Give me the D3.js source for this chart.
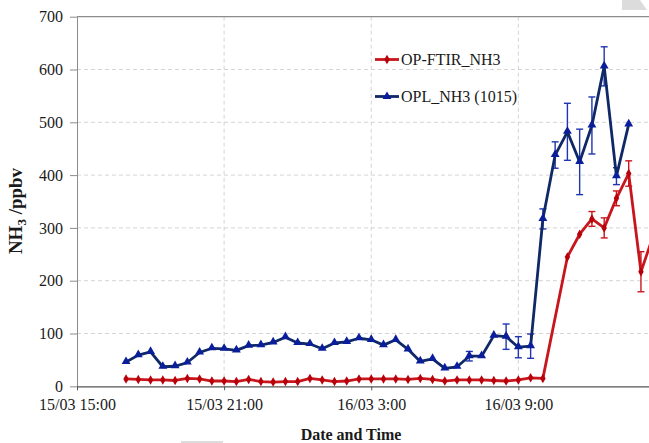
<!DOCTYPE html>
<html>
<head>
<meta charset="utf-8">
<script src="https://cdn.jsdelivr.net/npm/d3@7"></script>
<style>
  body { margin: 0; background: #fff; }
  svg { display: block; font-family: "Liberation Serif", "Times New Roman", serif; }
</style>
</head>
<body>
<div id="chart"></div>
<script>
// Data, one sample every 30 minutes
const times = [
  '15/03 17:00', '15/03 17:30', '15/03 18:00', '15/03 18:30', '15/03 19:00', '15/03 19:30',
  '15/03 20:00', '15/03 20:30', '15/03 21:00', '15/03 21:30', '15/03 22:00', '15/03 22:30',
  '15/03 23:00', '15/03 23:30', '16/03 0:00', '16/03 0:30', '16/03 1:00', '16/03 1:30',
  '16/03 2:00', '16/03 2:30', '16/03 3:00', '16/03 3:30', '16/03 4:00', '16/03 4:30',
  '16/03 5:00', '16/03 5:30', '16/03 6:00', '16/03 6:30', '16/03 7:00', '16/03 7:30',
  '16/03 8:00', '16/03 8:30', '16/03 9:00', '16/03 9:30', '16/03 10:00', '16/03 10:30',
  '16/03 11:00', '16/03 11:30', '16/03 12:00', '16/03 12:30', '16/03 13:00', '16/03 13:30',
  '16/03 14:00', '16/03 14:30'
];
const ftirValues = [14, 13, 12, 12, 11, 15, 14, 10, 10, 9, 13, 9, 8, 9, 9, 15, 12, 9, 10, 14, 14, 14,
  14, 13, 15, 13, 10, 12, 12, 12, 11, 10, 12, 16, 15, null, 245, 288, 317, 300, 356, 403, 217, 285];
const ftirErrors = [2, 2, 2, 2, 2, 2, 2, 2, 2, 2, 2, 2, 2, 2, 2, 2, 2, 2, 2, 2, 2, 2,
  2, 2, 2, 2, 2, 2, 2, 2, 2, 2, 2, 3, 3, null, 4, 4, 14, 19, 14, 24, 38, 0];
const oplValues = [46, 59, 65, 37, 38, 45, 64, 72, 71, 68, 77, 78, 83, 93, 82, 80, 71, 82, 84, 91, 88,
  78, 88, 70, 47, 52, 34, 37, 57, 57, 96, 94, 74, 76, 317, 438, 482, 425, 494, 606, 398, 496];
const oplErrors = [4, 4, 3, 3, 3, 3, 3, 3, 3, 3, 3, 3, 3, 3, 3, 3, 3, 3, 3, 3, 3,
  3, 3, 4, 3, 3, 4, 3, 9, 4, 4, 24, 20, 23, 19, 25, 54, 62, 54, 37, 16, 0];
const yTicks = [0, 100, 200, 300, 400, 500, 600, 700];
const xTicks = ['15/03 15:00', '15/03 21:00', '16/03 3:00', '16/03 9:00'];
const seriesNames = ['OP-FTIR_NH3', 'OPL_NH3 (1015)'];

const parseTime = d3.timeParse('%d/%m %H:%M');
const formatTime = d3.timeFormat('%d/%m %-H:%M');
const serif = '"Liberation Serif", "Times New Roman", serif';

const width = 649;
const height = 443;
const margin = {top: 16.7, left: 77, bottom: 56.7};

const svg = d3.select('#chart')
  .append('svg')
    .attr('width', width)
    .attr('height', height);

// Decorations from the source page
svg.append('polygon')
  .attr('points', '622,0 640,0 647,10 622,10')
  .attr('fill', '#dcdcdc');
svg.append('rect')
  .attr('x', 181).attr('y', 441).attr('width', 42).attr('height', 2)
  .attr('fill', '#dcdcdc');

// Scales (the plot runs past the right edge of the page)
const x = d3.scaleTime()
  .domain([parseTime('15/03 15:00'), parseTime('16/03 15:00')])
  .range([margin.left, margin.left + 24 * 24.52]);
const y = d3.scaleLinear()
  .domain([0, 700])
  .range([height - margin.bottom, margin.top]);

// Grid
const grid = svg.append('g')
  .attr('stroke', '#d4d4d4')
  .attr('stroke-dasharray', '4 3');
grid.selectAll('.hgrid')
  .data(yTicks.filter(d => d > 0 && d < 700))
  .join('line')
    .attr('x1', margin.left).attr('x2', width)
    .attr('y1', d => y(d)).attr('y2', d => y(d));
grid.selectAll('.vgrid')
  .data(xTicks.slice(1))
  .join('line')
    .attr('x1', d => x(parseTime(d))).attr('x2', d => x(parseTime(d)))
    .attr('y1', y(700)).attr('y2', y(0));

// Top frame line
svg.append('line')
  .attr('x1', margin.left).attr('x2', width)
  .attr('y1', y(700)).attr('y2', y(700))
  .attr('stroke', '#8c8c8c').attr('stroke-width', 1.2);

// Y axis
const yAxis = svg.append('g')
  .attr('transform', `translate(${margin.left},0)`)
  .call(d3.axisLeft(y).tickValues(yTicks).tickSize(7).tickPadding(7).tickSizeOuter(0));
yAxis.attr('font-family', null);
yAxis.select('.domain').attr('stroke', '#8c8c8c');
yAxis.selectAll('.tick line').attr('stroke', '#8c8c8c');
yAxis.selectAll('.tick text')
  .style('font-family', serif)
  .style('font-size', '16px')
  .attr('fill', '#1a1a1a');

// X axis
const xAxis = svg.append('g')
  .attr('transform', `translate(0,${y(0)})`)
  .call(d3.axisBottom(x)
    .tickValues(xTicks.map(parseTime))
    .tickFormat(formatTime)
    .tickSize(4).tickPadding(8).tickSizeOuter(0));
xAxis.attr('font-family', null);
xAxis.select('.domain').attr('stroke', '#555').attr('stroke-width', 1.3);
xAxis.selectAll('.tick line').attr('stroke', '#555');
xAxis.selectAll('.tick text')
  .style('font-family', serif)
  .style('font-size', '16px')
  .attr('fill', '#1a1a1a');

// Axis titles
svg.append('text')
  .attr('text-anchor', 'middle')
  .attr('x', 351)
  .attr('y', 440)
  .attr('font-size', 16)
  .attr('font-weight', 700)
  .attr('fill', '#1a1a1a')
  .text('Date and Time');

const yTitle = svg.append('text')
  .attr('text-anchor', 'middle')
  .attr('transform', 'translate(22,211) rotate(-90)')
  .attr('font-size', 19)
  .attr('font-weight', 700)
  .attr('fill', '#1a1a1a');
yTitle.append('tspan').text('NH');
yTitle.append('tspan').attr('font-size', 13).attr('dy', 4).text('3');
yTitle.append('tspan').attr('dy', -4).text(' /ppbv');

// Build series records
const ftir = times.map((t, i) => ({date: parseTime(t), value: ftirValues[i], err: ftirErrors[i]}))
  .filter(d => d.value !== null && d.value !== undefined);
const opl = oplValues.map((v, i) => ({date: parseTime(times[i]), value: v, err: oplErrors[i]}));

const line = d3.line()
  .x(d => x(d.date))
  .y(d => y(d.value));

const drawErrors = (data, color) => {
  const g = svg.append('g')
    .attr('stroke', color)
    .attr('stroke-width', 1.4);
  const withErr = data.filter(d => d.err > 4);
  g.selectAll('.bar')
    .data(withErr)
    .join('line')
      .attr('x1', d => x(d.date)).attr('x2', d => x(d.date))
      .attr('y1', d => y(d.value - d.err)).attr('y2', d => y(d.value + d.err));
  g.selectAll('.capTop')
    .data(withErr)
    .join('line')
      .attr('x1', d => x(d.date) - 3.5).attr('x2', d => x(d.date) + 3.5)
      .attr('y1', d => y(d.value + d.err)).attr('y2', d => y(d.value + d.err));
  g.selectAll('.capBottom')
    .data(withErr)
    .join('line')
      .attr('x1', d => x(d.date) - 3.5).attr('x2', d => x(d.date) + 3.5)
      .attr('y1', d => y(d.value - d.err)).attr('y2', d => y(d.value - d.err));
};

// OP-FTIR series (red, diamonds)
drawErrors(ftir, '#c8161d');
svg.append('path')
  .datum(ftir)
  .attr('fill', 'none')
  .attr('stroke', '#c8161d')
  .attr('stroke-width', 2.8)
  .attr('stroke-linejoin', 'round')
  .attr('d', line);
const diamond = d3.symbol().type(d3.symbolDiamond).size(26);
svg.append('g')
  .attr('fill', '#b8000a')
  .selectAll('path')
  .data(ftir)
  .join('path')
    .attr('transform', d => `translate(${x(d.date)},${y(d.value)})`)
    .attr('d', diamond);

// OPL series (navy, triangles)
drawErrors(opl, '#2035b0');
svg.append('path')
  .datum(opl)
  .attr('fill', 'none')
  .attr('stroke', '#0f2866')
  .attr('stroke-width', 2.8)
  .attr('stroke-linejoin', 'round')
  .attr('d', line);
const triangle = d3.symbol().type(d3.symbolTriangle).size(34);
svg.append('g')
  .attr('fill', '#0a1e9c')
  .selectAll('path')
  .data(opl)
  .join('path')
    .attr('transform', d => `translate(${x(d.date)},${y(d.value) - 0.5})`)
    .attr('d', triangle);

// Legend
const legend = svg.append('g');
const legendItems = [
  {name: seriesNames[0], color: '#c8161d', mark: '#b8000a', symbol: diamond, y: 59.5},
  {name: seriesNames[1], color: '#0f2866', mark: '#0a1e9c', symbol: triangle, y: 96.5}
];
legendItems.forEach(item => {
  legend.append('line')
    .attr('x1', 375).attr('x2', 399)
    .attr('y1', item.y).attr('y2', item.y)
    .attr('stroke', item.color)
    .attr('stroke-width', 2.8);
  legend.append('path')
    .attr('transform', `translate(387,${item.y})`)
    .attr('fill', item.mark)
    .attr('d', item.symbol);
  legend.append('text')
    .attr('x', 401)
    .attr('y', item.y + 5.5)
    .style('font-family', serif)
    .style('font-size', '16px')
    .attr('fill', '#1a1a1a')
    .text(item.name);
});
</script>
</body>
</html>
